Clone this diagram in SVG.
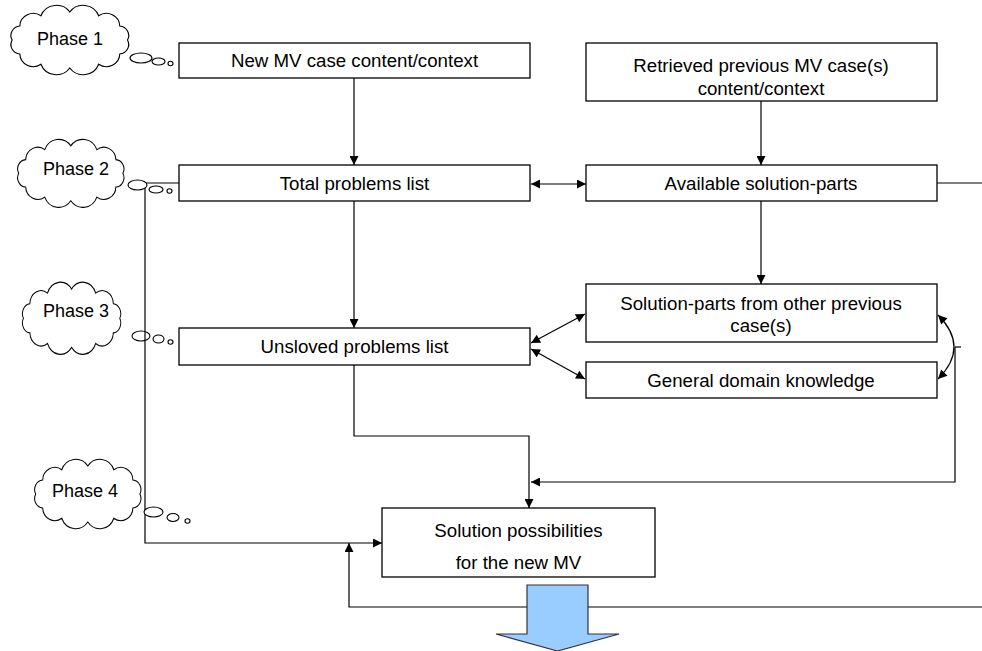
<svg xmlns="http://www.w3.org/2000/svg" xmlns:xlink="http://www.w3.org/1999/xlink" width="982" height="651" viewBox="0 0 982 651">
<style>
.box{fill:#fff;stroke:#000;stroke-width:1.3}
.t{font-family:"Liberation Sans",Arial,sans-serif;font-size:18.7px;fill:#000;text-anchor:middle}
.ph{font-family:"Liberation Sans",Arial,sans-serif;font-size:18px;fill:#000;text-anchor:middle}
.ln{fill:none;stroke:#000;stroke-width:1.2}
.cl{fill:#fff;stroke:#000;stroke-width:1.1}
.arr{marker-end:url(#ah)}
.dbl{marker-start:url(#ah);marker-end:url(#ah)}
</style>
<defs>
<marker id="ah" viewBox="0 0 10 10" refX="10" refY="5" markerWidth="10" markerHeight="9" markerUnits="userSpaceOnUse" orient="auto-start-reverse"><path d="M0,0 L10,5 L0,10 z" fill="#000"/></marker>
<path id="cloud" d="M116,32 A9.5,9.5 0 0 1 108.5,46 A13,13 0 0 1 88,56.2 A16,16 0 0 1 60,60 A16,16 0 0 1 32,56.2 A13,13 0 0 1 11.5,46 A9.5,9.5 0 0 1 4,32 A9.5,9.5 0 0 1 11.5,18 A13,13 0 0 1 32,7.8 A16,16 0 0 1 60,4 A16,16 0 0 1 88,7.8 A13,13 0 0 1 108.5,18 A9.5,9.5 0 0 1 116,32 Z"/>
</defs>

<g id="connectors">
<path class="ln arr" d="M354,78 L354,165"/>
<path class="ln arr" d="M761,101 L761,165"/>
<path class="ln dbl" d="M531,184 L586,184"/>
<path class="ln arr" d="M354,201 L354,328"/>
<path class="ln arr" d="M761,201 L761,284"/>
<path class="ln dbl" d="M531,343 L585,314"/>
<path class="ln dbl" d="M531,349 L585,379"/>
<path class="ln dbl" d="M938,315 Q970,347 938,379"/>
<path class="ln" d="M955,347 L961,347"/>
<path class="ln arr" d="M955,347 L955,482 L531,482"/>
<path class="ln arr" d="M354,365 L354,436 L529,436 L529,508"/>
<path class="ln" d="M937,183 L982,183"/>
<path class="ln arr" d="M982,607 L349,607 L349,543"/>
<path class="ln arr" d="M145,183 L145,543 L382,543"/>
<path class="ln" d="M145,183 L179,183"/>
</g>

<g id="phase1">
<use xlink:href="#cloud" class="cl" transform="translate(8,8) scale(1.03,1.0)"/>
<ellipse class="cl" cx="141" cy="58" rx="11" ry="5"/>
<ellipse class="cl" cx="158.5" cy="61.5" rx="6.5" ry="3.5"/>
<ellipse class="cl" cx="170.5" cy="63.5" rx="2.5" ry="2.2"/>
<text class="ph" x="70" y="45">Phase 1</text>
</g>
<g id="phase2">
<use xlink:href="#cloud" class="cl" transform="translate(15,142) scale(0.93,0.98)"/>
<ellipse class="cl" cx="137.5" cy="185" rx="9.5" ry="5"/>
<ellipse class="cl" cx="156" cy="189.5" rx="7" ry="3.5"/>
<ellipse class="cl" cx="169.5" cy="191" rx="2.5" ry="2.2"/>
<text class="ph" x="76" y="175">Phase 2</text>
</g>
<g id="phase3">
<use xlink:href="#cloud" class="cl" transform="translate(20,285) scale(0.86,1.04)"/>
<ellipse cx="141" cy="336" rx="9" ry="5" fill="none" stroke="#000" stroke-width="1.1"/>
<ellipse class="cl" cx="158.5" cy="339" rx="5.5" ry="4"/>
<ellipse class="cl" cx="170.5" cy="342" rx="2.5" ry="2.2"/>
<text class="ph" x="76" y="317">Phase 3</text>
</g>
<g id="phase4">
<use xlink:href="#cloud" class="cl" transform="translate(32,462) scale(0.93,1.0)"/>
<ellipse class="cl" cx="153.5" cy="512" rx="9.5" ry="5"/>
<ellipse class="cl" cx="173" cy="517.5" rx="6" ry="4"/>
<ellipse class="cl" cx="187.5" cy="521" rx="2.5" ry="2.2"/>
<text class="ph" x="85" y="497">Phase 4</text>
</g>

<g id="newcase">
<rect class="box" x="179" y="43" width="351" height="35"/>
<text class="t" x="354.5" y="67">New MV case content/context</text>
</g>
<g id="retrieved">
<rect class="box" x="586" y="43" width="351" height="58"/>
<text class="t" x="761" y="72">Retrieved previous MV case(s)</text>
<text class="t" x="761" y="95">content/context</text>
</g>
<g id="total">
<rect class="box" x="179" y="165" width="351" height="36"/>
<text class="t" x="354.5" y="190">Total problems list</text>
</g>
<g id="available">
<rect class="box" x="586" y="165" width="351" height="36"/>
<text class="t" x="761" y="190">Available solution-parts</text>
</g>
<g id="unsolved">
<rect class="box" x="179" y="328" width="351" height="37"/>
<text class="t" x="354.5" y="353">Unsloved problems list</text>
</g>
<g id="solparts">
<rect class="box" x="586" y="284" width="351" height="58"/>
<text class="t" x="761" y="310">Solution-parts from other previous</text>
<text class="t" x="761" y="332">case(s)</text>
</g>
<g id="general">
<rect class="box" x="586" y="362" width="351" height="36"/>
<text class="t" x="761" y="387">General domain knowledge</text>
</g>
<g id="solution">
<rect class="box" x="382" y="508" width="273" height="69"/>
<text class="t" x="518.5" y="537">Solution possibilities</text>
<text class="t" x="518.5" y="569">for the new MV</text>
</g>
<g id="output-arrow">
<polygon points="527,585 588,585 588,634 619,634 557.5,651 496,634 527,634" fill="#99CCFF" stroke="#333" stroke-width="1.2"/>
</g>
</svg>
